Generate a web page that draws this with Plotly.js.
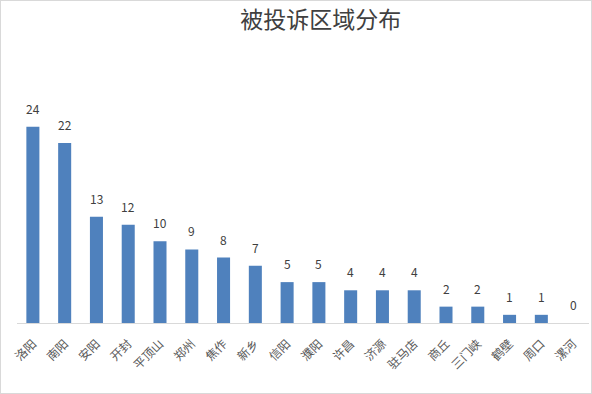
<!DOCTYPE html>
<html><head><meta charset="utf-8">
<script src="https://cdn.plot.ly/plotly-3.0.1.min.js"></script>
<style>
html,body{margin:0;padding:0;background:#fff;}
#chart{width:590px;height:392px;border:1px solid #d9d9d9;}
</style></head>
<body><div id="chart"></div>
<script>
const regions = ["洛阳","南阳","安阳","开封","平顶山","郑州","焦作","新乡","信阳","濮阳","许昌","济源","驻马店","商丘","三门峡","鹤壁","周口","漯河"];
const counts = [24,22,13,12,10,9,8,7,5,5,4,4,4,2,2,1,1,0];
const chartTitle = "被投诉区域分布";

const font = "'Noto Sans CJK SC', 'Noto Sans', sans-serif";
const valueLabels = regions.map((r, i) => ({
  x: r, y: counts[i], xref: "x", yref: "y",
  text: String(counts[i]), showarrow: false,
  yanchor: "bottom", yshift: 8,
  font: {size: 12, color: "#404040", family: font}
}));
Plotly.newPlot("chart", [{
  type: "bar",
  x: regions,
  y: counts,
  marker: {color: "#4f81bd"},
  hoverinfo: "x+y"
}], {
  width: 590, height: 392,
  margin: {l: 15.6, r: 2, t: 93, b: 70},
  paper_bgcolor: "#fff", plot_bgcolor: "#fff",
  title: {text: chartTitle, font: {size: 23, color: "#404040", family: font}, x: 0.542, xanchor: "center", y: 0.952, yanchor: "middle", yref: "container"},
  bargap: 0.59,
  showlegend: false,
  annotations: valueLabels,
  xaxis: {
    showline: true, linecolor: "#d9d9d9", linewidth: 1,
    tickangle: -45, ticks: "outside", ticklen: 8, tickcolor: "rgba(0,0,0,0)",
    tickfont: {size: 12, color: "#595959", family: font},
    showgrid: false, zeroline: false, fixedrange: true
  },
  yaxis: {
    range: [0, 28], visible: false, showgrid: false, zeroline: false, fixedrange: true
  }
}, {displayModeBar: false, staticPlot: true});
</script></body></html>
